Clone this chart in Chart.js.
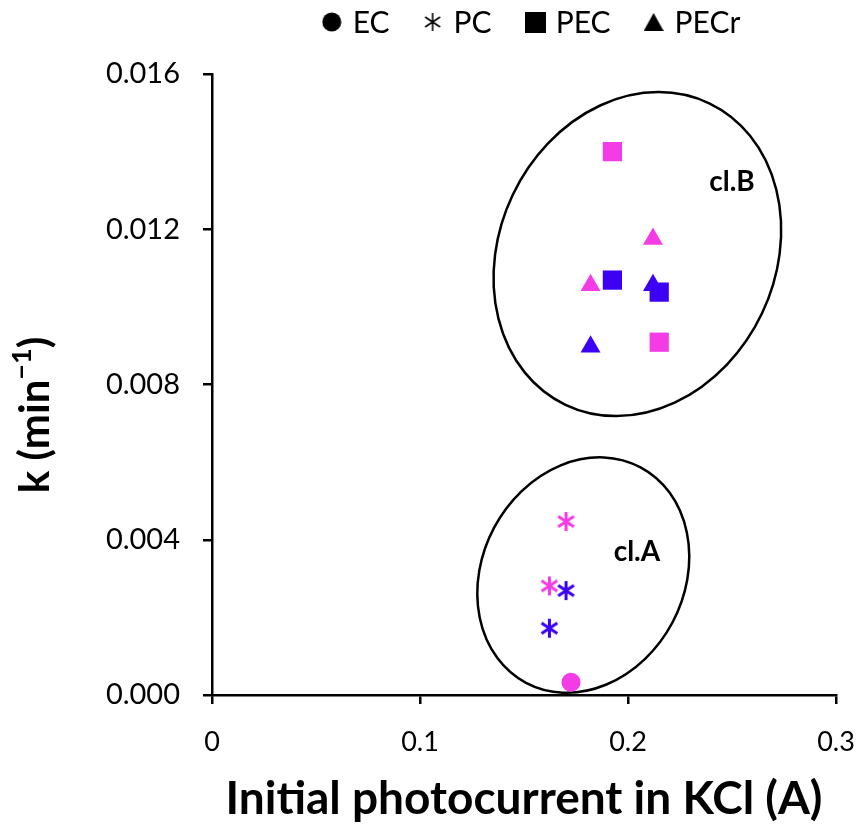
<!DOCTYPE html>
<html>
<head>
<meta charset="utf-8">
<script src="https://cdn.jsdelivr.net/npm/chart.js@4"></script>
<style>
  html, body { margin: 0; padding: 0; background: #fff; }
  #wrap { width: 862px; height: 827px; }
</style>
</head>
<body>
<div id="wrap"><canvas id="scatterChart" width="862" height="827"></canvas></div>
<script>
  // data
  var ecPink    = [[0.1726, 0.00033]];
  var pcPink    = [[0.1702, 0.00447], [0.1622, 0.00281]];
  var pcBlue    = [[0.1702, 0.00269], [0.1622, 0.00172]];
  var pecPink   = [[0.1925, 0.0140], [0.2150, 0.00909]];
  var pecBlue   = [[0.1925, 0.01069], [0.2150, 0.01038]];
  var pecrPink  = [[0.2120, 0.01175], [0.1820, 0.01056]];
  var pecrBlue  = [[0.2120, 0.01056], [0.1820, 0.00897]];
  var legendNames = ["EC", "PC", "PEC", "PECr"];
  var xTicks = [0, 0.1, 0.2, 0.3];
  var yTicks = [0, 0.004, 0.008, 0.012, 0.016];

  var pink = '#F43CE6';
  var blue = '#3C00F5';

  // cluster ellipses (center in data units)
  var clusters = [
    {label: 'cl.A', cx: 0.1785, cy: 0.00309, rx: 101, ry: 122, rot: 28, tx: 0.2043, ty: 0.00368},
    {label: 'cl.B', cx: 0.2045, cy: 0.01136, rx: 138, ry: 167, rot: 25.5, tx: 0.2500, ty: 0.01322}
  ];

  function toXY(arr) {
    return arr.map(function (p) { return {x: p[0], y: p[1]}; });
  }

  function makeIcon(kind, color, size, lw) {
    var c = document.createElement('canvas');
    c.width = size; c.height = size;
    var g = c.getContext('2d');
    var m = size / 2;
    g.fillStyle = color; g.strokeStyle = color; g.lineWidth = lw;
    if (kind == 'star') {
      var r = m - 1;
      g.beginPath();
      g.moveTo(m, m - r); g.lineTo(m, m + r);
      var dx = r * Math.sin(Math.PI / 3.2), dy = r * Math.cos(Math.PI / 3.2);
      g.moveTo(m - dx, m - dy); g.lineTo(m + dx, m + dy);
      g.moveTo(m + dx, m - dy); g.lineTo(m - dx, m + dy);
      g.stroke();
    } else if (kind == 'circle') {
      g.beginPath(); g.arc(m, m, m - 0.5, 0, Math.PI * 2); g.fill();
    } else if (kind == 'rect') {
      g.fillRect(0, 0, size, size);
    } else if (kind == 'triangle') {
      g.beginPath(); g.moveTo(m, 1); g.lineTo(size, size - 1); g.lineTo(0, size - 1); g.closePath(); g.fill();
    }
    return c;
  }

  var starPink = makeIcon('star', pink, 21, 3);
  var starBlue = makeIcon('star', blue, 21, 3);
  var legendIcons = [
    makeIcon('circle', '#000', 20, 1),
    makeIcon('star', '#000', 20, 1.6),
    makeIcon('rect', '#000', 21, 1),
    makeIcon('triangle', '#000', 20, 1)
  ];

  function ds(label, arr, color, style, radius) {
    return {
      label: label, data: toXY(arr),
      backgroundColor: color, borderColor: color, borderWidth: 0,
      pointStyle: style, pointRadius: radius, pointHoverRadius: radius
    };
  }

  var scatterData = {
    datasets: [
      ds('EC', ecPink, pink, 'circle', 9.5),
      ds('PC', pcPink, pink, starPink, 10),
      ds('PC', pcBlue, blue, starBlue, 10),
      ds('PECr', pecrPink, pink, 'triangle', 11.5),
      ds('PECr', pecrBlue, blue, 'triangle', 11.5),
      ds('PEC', pecPink, pink, 'rect', 13.6),
      ds('PEC', pecBlue, blue, 'rect', 13.6)
    ]
  };

  // ellipses + cluster labels
  var clusterPlugin = {
    id: 'clusters',
    beforeDatasetsDraw: function (chart) {
      var ctx = chart.ctx, xs = chart.scales.x, ys = chart.scales.y;
      ctx.save();
      clusters.forEach(function (c) {
        ctx.beginPath();
        ctx.ellipse(xs.getPixelForValue(c.cx), ys.getPixelForValue(c.cy), c.rx, c.ry, c.rot * Math.PI / 180, 0, Math.PI * 2);
        ctx.lineWidth = 2.5;
        ctx.strokeStyle = '#000';
        ctx.stroke();
        ctx.fillStyle = '#000';
        ctx.font = 'bold 28px Lato';
        ctx.textAlign = 'center';
        ctx.textBaseline = 'middle';
        ctx.fillText(c.label, xs.getPixelForValue(c.tx), ys.getPixelForValue(c.ty));
      });
      ctx.restore();
    }
  };

  // legend across the top (black markers) + y title with a real superscript
  var extraText = {
    id: 'extraText',
    afterDraw: function (chart) {
      var ctx = chart.ctx;
      var area = chart.chartArea;
      ctx.save();
      ctx.font = '30px Lato';
      ctx.fillStyle = '#000';
      ctx.textBaseline = 'middle';
      var icon = 20, gapIcon = 11, gapItem = 33;
      var total = 0;
      legendNames.forEach(function (n, i) {
        total += icon + gapIcon + ctx.measureText(n).width + (i < legendNames.length - 1 ? gapItem : 0);
      });
      var x = (area.left + area.right) / 2 - total / 2 + 7;
      var y = 22;
      legendNames.forEach(function (n, i) {
        ctx.drawImage(legendIcons[i], x, y - icon / 2);
        x += icon + gapIcon;
        ctx.fillText(n, x, y + 1);
        x += ctx.measureText(n).width + gapItem;
      });

      // y axis title: k (min^-1)
      var big = 'bold 42px Lato', small = 'bold 27px Lato';
      var parts = [['k (min', big, 0], ['\u22121', small, -13], [')', big, 0]];
      var w = 0;
      parts.forEach(function (p) { ctx.font = p[1]; w += ctx.measureText(p[0]).width; });
      ctx.translate(35, 415);
      ctx.rotate(-Math.PI / 2);
      ctx.textBaseline = 'middle';
      ctx.textAlign = 'left';
      var px = -w / 2;
      parts.forEach(function (p) {
        ctx.font = p[1];
        ctx.fillText(p[0], px, p[2]);
        px += ctx.measureText(p[0]).width;
      });
      ctx.restore();
    }
  };

  var scatterOptions = {
    responsive: false,
    animation: false,
    layout: { padding: { top: 74, right: 26, left: 0, bottom: 0 } },
    plugins: { legend: { display: false }, tooltip: { enabled: false } },
    scales: {
      x: {
        type: 'linear', min: 0, max: 0.3,
        afterBuildTicks: function (s) { s.ticks = xTicks.map(function (v) { return {value: v}; }); },
        afterFit: function (s) { s.height = 132; s.paddingRight = 0; s.paddingLeft = 0; },
        border: { display: true, color: '#000', width: 2.5 },
        grid: { display: true, drawOnChartArea: false, drawTicks: true, tickLength: 9, color: '#000', lineWidth: 2.5 },
        ticks: {
          color: '#000', padding: 22,
          font: { family: 'Lato', size: 27 },
          callback: function (v) { return v === 0 ? '0' : v.toFixed(1); }
        },
        title: {
          display: true, text: 'Initial photocurrent in KCl (A)', color: '#000',
          font: { family: 'Lato', size: 46, weight: 'bold' },
          padding: { top: 0, bottom: 0 }
        }
      },
      y: {
        type: 'linear', min: 0, max: 0.016,
        afterBuildTicks: function (s) { s.ticks = yTicks.map(function (v) { return {value: v}; }); },
        afterFit: function (s) { s.width = 212; },
        border: { display: true, color: '#000', width: 2.5 },
        grid: { display: true, drawOnChartArea: false, drawTicks: true, tickLength: 9, color: '#000', lineWidth: 2.5 },
        ticks: {
          color: '#000', padding: 23,
          font: { family: 'Lato', size: 29 },
          callback: function (v) { return v.toFixed(3); }
        },
        title: { display: false }
      }
    }
  };

  var ctx = document.getElementById('scatterChart').getContext('2d');
  var chart = new Chart(ctx, { type: 'scatter', data: scatterData, options: scatterOptions, plugins: [clusterPlugin, extraText] });
</script>
</body>
</html>
